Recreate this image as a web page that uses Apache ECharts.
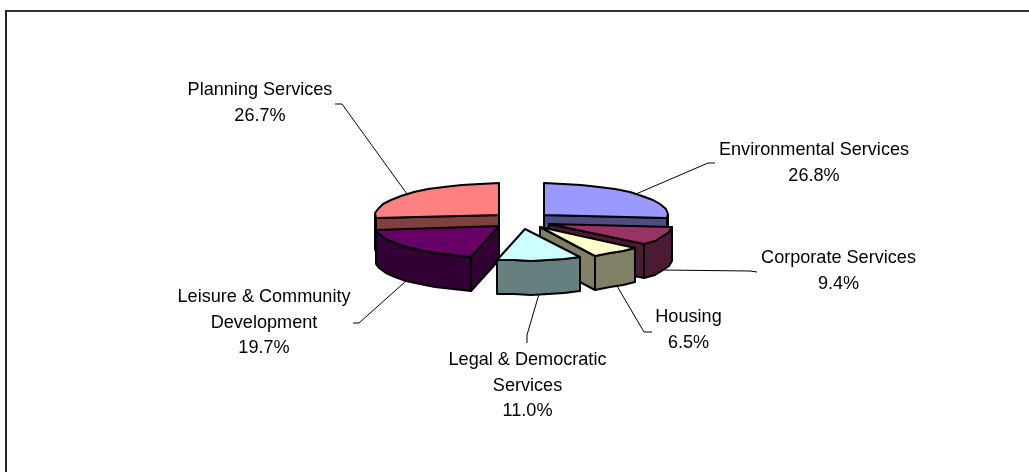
<!DOCTYPE html>
<html>
<head>
<meta charset="utf-8">
<style>html,body{margin:0;padding:0;background:#fff}#chart{width:1029px;height:472px}</style>
<script src="https://cdn.jsdelivr.net/npm/echarts@6/dist/echarts.min.js"></script>
</head>
<body>
<div id="chart"></div>
<script>
// Service shares, clockwise from twelve o'clock
const services = ['Environmental Services', 'Corporate Services', 'Housing',
  'Legal & Democratic Services', 'Leisure & Community Development', 'Planning Services'];
const labelLines = [['Environmental Services'], ['Corporate Services'], ['Housing'],
  ['Legal & Democratic', 'Services'], ['Leisure & Community', 'Development'], ['Planning Services']];
const shares = [26.8, 9.4, 6.5, 11.0, 19.7, 26.7];
const topColors = ['#9999FF', '#993366', '#FFFFCC', '#CCFFFF', '#660066', '#FF8080'];
const wallColors = ['#4D4D80', '#4D1A33', '#808066', '#668080', '#330033', '#804040'];

// Painter's order of the exploded slices, back to front
const paintRank = [1, 2, 4, 5, 3, 0];

// Pie projection
const pie = { cx: 521.5, cy: 220.6, rx: 124, ry: 31.5, depth: 34, explode: 30, stepDeg: 9 };

// Label placement: text centre, first line centre, and the leader's two outer points
const labelAt = [
  { x: 814, y: 150, elbow: [708, 163], end: [715, 163] },
  { x: 838.5, y: 258, elbow: [750, 271], end: [757, 272] },
  { x: 688.5, y: 317, elbow: [644, 332], end: [652, 332] },
  { x: 527.5, y: 360, elbow: [527, 335], end: [527, 343] },
  { x: 264, y: 297, elbow: [359, 323], end: [353, 323] },
  { x: 260, y: 90, elbow: [342, 104], end: [335, 104] }
];
const lineGap = 25.6;

const total = shares.reduce((a, b) => a + b, 0);
const rad = d => d * Math.PI / 180;

function sliceAngles(i) {
  const before = shares.slice(0, i).reduce((a, b) => a + b, 0);
  return [before / total * 360, (before + shares[i]) / total * 360];
}
function rimPoint(c, deg, drop) {
  return [Math.round(c.x + pie.rx * Math.sin(rad(deg))),
          Math.round(c.y - pie.ry * Math.cos(rad(deg)) + drop)];
}
function arcPoints(c, from, to, drop) {
  const pts = [];
  const n = Math.max(1, Math.ceil((to - from) / pie.stepDeg));
  for (let k = 0; k <= n; k++) pts.push(rimPoint(c, from + (to - from) * k / n, drop));
  return pts;
}

function renderSlice(params, api) {
  const i = api.value(0);
  const [a0, a1] = sliceAngles(i);
  const mid = (a0 + a1) / 2;
  const c = {
    x: pie.cx + pie.explode * Math.sin(rad(mid)),
    y: pie.cy - pie.explode * (pie.ry / pie.rx + 0.03) * Math.cos(rad(mid))
  };
  const z = paintRank[i] * 10;
  const outline = { stroke: '#000', lineWidth: 2, lineJoin: 'round' };
  const poly = (points, fill, bump) => ({
    type: 'polygon', z2: z + bump, shape: { points },
    style: Object.assign({ fill }, outline), silent: true
  });
  const children = [];
  const apex = [Math.round(c.x), Math.round(c.y)];
  const radialWall = deg => {
    const p = rimPoint(c, deg, 0);
    return [apex, p, [p[0], p[1] + pie.depth], [apex[0], apex[1] + pie.depth]];
  };
  if (Math.sin(rad(a0)) < 0) children.push(poly(radialWall(a0), wallColors[i], 1));
  if (Math.sin(rad(a1)) > 0) children.push(poly(radialWall(a1), wallColors[i], 1));

  // Only the front half of the rim wall can be seen
  const f0 = Math.max(a0, 90), f1 = Math.min(a1, 270);
  if (f1 > f0) {
    const upper = arcPoints(c, f0, f1, 0);
    const lower = arcPoints(c, f0, f1, pie.depth).reverse();
    children.push(poly(upper.concat(lower), wallColors[i], 2));
  }
  children.push(poly([apex].concat(arcPoints(c, a0, a1, 0)), topColors[i], 3));

  // Leader line from the rim at the slice's mid angle
  const at = labelAt[i];
  const drop = Math.cos(rad(mid)) < 0 ? pie.depth : 0;
  children.push({
    type: 'polyline', z2: z + 0.5, silent: true,
    shape: { points: [rimPoint(c, mid, drop), at.elbow, at.end] },
    style: { stroke: '#000', lineWidth: 1, fill: null }
  });

  // Label text: name lines, then the share
  labelLines[i].concat([shares[i].toFixed(1) + '%']).forEach((line, k) => {
    children.push({
      type: 'text', z2: 200, silent: true,
      style: {
        x: at.x, y: at.y + k * lineGap, text: line, fill: '#000',
        font: '18.1px "Liberation Sans", Arial, sans-serif',
        align: 'center', verticalAlign: 'middle'
      }
    });
  });
  return { type: 'group', children };
}

const chart = echarts.init(document.getElementById('chart'), null, { renderer: 'canvas' });
chart.setOption({
  animation: false,
  backgroundColor: '#fff',
  graphic: [
    { type: 'line', shape: { x1: 5, y1: 11, x2: 1029, y2: 11 }, style: { stroke: '#333', lineWidth: 2 } },
    { type: 'line', shape: { x1: 6, y1: 10, x2: 6, y2: 472 }, style: { stroke: '#222', lineWidth: 2 } }
  ],
  series: [{
    type: 'custom',
    coordinateSystem: 'none',
    renderItem: renderSlice,
    encode: { value: 0 },
    data: services.map((name, i) => ({ name, value: [i, shares[i]] }))
  }]
});
</script>
</body>
</html>
